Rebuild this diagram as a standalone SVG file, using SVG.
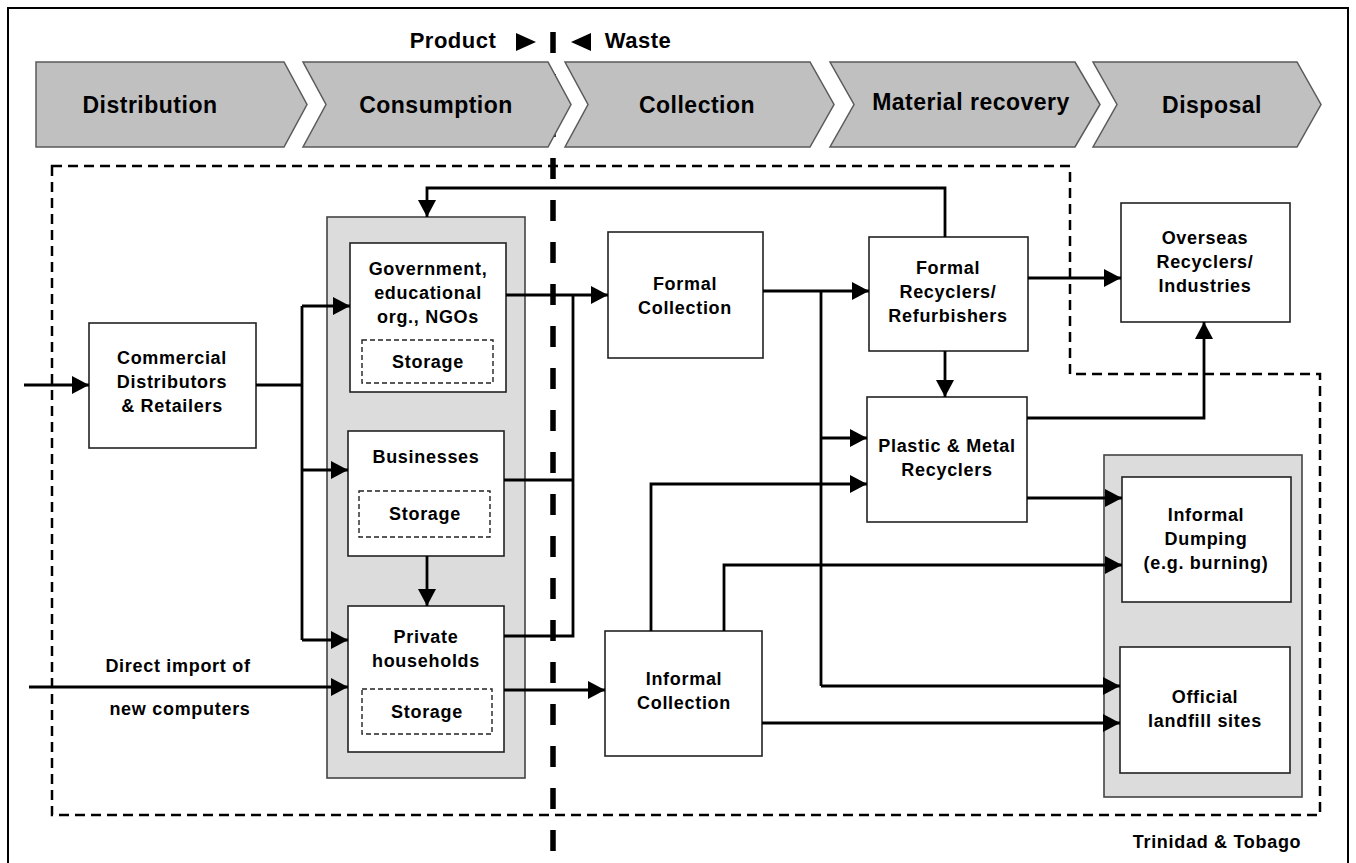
<svg xmlns="http://www.w3.org/2000/svg" width="1356" height="863" viewBox="0 0 1356 863">
<defs>
<marker id="ah" markerUnits="userSpaceOnUse" markerWidth="18" markerHeight="18" refX="17" refY="9" orient="auto">
<path d="M0,0 L17,9 L0,18 Z" fill="#000"/>
</marker>
<style>
.chev{fill:#c0c0c0;stroke:#5a5a5a;stroke-width:1.5}
.ct{font-family:"Liberation Sans",Arial,sans-serif;font-weight:bold;font-size:23px;letter-spacing:0.5px;text-anchor:middle;fill:#000}
.box{fill:#fff;stroke:#222;stroke-width:1.6}
.grp{fill:#dcdcdc;stroke:#444;stroke-width:1.6}
.sto{fill:#fff;stroke:#222;stroke-width:1.4;stroke-dasharray:5 3}
.t{font-family:"Liberation Sans",Arial,sans-serif;font-weight:bold;font-size:18px;letter-spacing:0.7px;text-anchor:middle;fill:#000}
.ln{fill:none;stroke:#000;stroke-width:2.8}
.la{fill:none;stroke:#000;stroke-width:2.8;marker-end:url(#ah)}
</style>
</defs>
<rect width="1356" height="863" fill="#fff"/>
<rect x="8" y="8" width="1340" height="860" fill="none" stroke="#000" stroke-width="2"/>

<!-- product / waste divider -->
<g id="divider">
<line x1="553" y1="32" x2="553" y2="853" stroke="#000" stroke-width="5.5" stroke-dasharray="21 21"/>
<text x="453" y="48" class="ct" style="font-size:22px">Product</text>
<path d="M516,33 L536,42 L516,51 Z" fill="#000"/>
<path d="M591,33 L571,42 L591,51 Z" fill="#000"/>
<text x="638" y="48" class="ct" style="font-size:22px">Waste</text>
</g>

<!-- stage chevrons -->
<g id="stage-distribution">
<path class="chev" d="M36,62 H284 L307,104.5 L284,147 H36 Z"/>
<text class="ct" x="150" y="113">Distribution</text>
</g>
<g id="stage-consumption">
<path class="chev" d="M303,62 H548 L571,104.5 L548,147 H303 L326,104.5 Z"/>
<text class="ct" x="436" y="113">Consumption</text>
</g>
<g id="stage-collection">
<path class="chev" d="M565,62 H810 L834,104.5 L810,147 H565 L588,104.5 Z"/>
<text class="ct" x="697" y="113">Collection</text>
</g>
<g id="stage-material">
<path class="chev" d="M830,62 H1075 L1100,104.5 L1075,147 H830 L854,104.5 Z"/>
<text class="ct" x="971" y="110">Material recovery</text>
</g>
<g id="stage-disposal">
<path class="chev" d="M1093,62 H1297 L1321,104.5 L1297,147 H1093 L1117,104.5 Z"/>
<text class="ct" x="1212" y="113">Disposal</text>
</g>

<!-- country boundary -->
<g id="boundary">
<path d="M52,166 H1070 V374 H1320 V815 H52 Z" fill="none" stroke="#000" stroke-width="2.5" stroke-dasharray="10 6"/>
<text class="t" x="1217" y="848">Trinidad &amp; Tobago</text>
</g>

<!-- group containers -->
<g id="consumption-group">
<rect class="grp" x="327" y="217" width="198" height="561"/>
</g>
<g id="disposal-group">
<rect class="grp" x="1104" y="455" width="198" height="342"/>
</g>

<g id="commercial">
<rect class="box" x="89" y="323" width="167" height="125"/>
<text class="t" x="172" y="364">Commercial</text>
<text class="t" x="172" y="388">Distributors</text>
<text class="t" x="172" y="412">&amp; Retailers</text>
</g>

<g id="government">
<rect class="box" x="350" y="243" width="156" height="149"/>
<text class="t" x="428" y="275">Government,</text>
<text class="t" x="428" y="299">educational</text>
<text class="t" x="428" y="323">org., NGOs</text>
<rect class="sto" x="362" y="340" width="131" height="43"/>
<text class="t" x="428" y="368">Storage</text>
</g>

<g id="businesses">
<rect class="box" x="348" y="431" width="156" height="125"/>
<text class="t" x="426" y="463">Businesses</text>
<rect class="sto" x="359" y="491" width="131" height="46"/>
<text class="t" x="425" y="520">Storage</text>
</g>

<g id="households">
<rect class="box" x="348" y="606" width="156" height="146"/>
<text class="t" x="426" y="643">Private</text>
<text class="t" x="426" y="667">households</text>
<rect class="sto" x="362" y="689" width="130" height="45"/>
<text class="t" x="427" y="718">Storage</text>
</g>

<g id="formal-collection">
<rect class="box" x="608" y="232" width="155" height="126"/>
<text class="t" x="685" y="290">Formal</text>
<text class="t" x="685" y="314">Collection</text>
</g>

<g id="informal-collection">
<rect class="box" x="605" y="631" width="157" height="125"/>
<text class="t" x="684" y="685">Informal</text>
<text class="t" x="684" y="709">Collection</text>
</g>

<g id="formal-recyclers">
<rect class="box" x="869" y="237" width="159" height="114"/>
<text class="t" x="948" y="274">Formal</text>
<text class="t" x="948" y="298">Recyclers/</text>
<text class="t" x="948" y="322">Refurbishers</text>
</g>

<g id="plastic-metal">
<rect class="box" x="867" y="397" width="160" height="125"/>
<text class="t" x="947" y="452">Plastic &amp; Metal</text>
<text class="t" x="947" y="476">Recyclers</text>
</g>

<g id="overseas">
<rect class="box" x="1121" y="203" width="169" height="119"/>
<text class="t" x="1205" y="244">Overseas</text>
<text class="t" x="1205" y="268">Recyclers/</text>
<text class="t" x="1205" y="292">Industries</text>
</g>

<g id="informal-dumping">
<rect class="box" x="1122" y="477" width="169" height="125"/>
<text class="t" x="1206" y="521">Informal</text>
<text class="t" x="1206" y="545">Dumping</text>
<text class="t" x="1206" y="569">(e.g. burning)</text>
</g>

<g id="landfill">
<rect class="box" x="1120" y="647" width="170" height="126"/>
<text class="t" x="1205" y="703">Official</text>
<text class="t" x="1205" y="727">landfill sites</text>
</g>

<g id="connectors">
<path class="la" d="M24,385 H89"/>
<path class="ln" d="M256,385 H302"/>
<path class="ln" d="M302,306 V640"/>
<path class="la" d="M302,306 H350"/>
<path class="la" d="M302,470 H348"/>
<path class="la" d="M302,640 H348"/>
<path class="la" d="M29,687 H348"/>
<text class="t" x="178" y="672">Direct import of</text>
<text class="t" x="180" y="715">new computers</text>
<path class="la" d="M427,556 V606"/>
<path class="la" d="M945,237 V188 H427 V217"/>
<path class="la" d="M506,295 H608"/>
<path class="ln" d="M504,480 H573"/>
<path class="ln" d="M504,636 H573 V295"/>
<path class="la" d="M504,690 H605"/>
<path class="la" d="M763,291 H869"/>
<path class="ln" d="M821,291 V686"/>
<path class="la" d="M821,438 H867"/>
<path class="la" d="M821,686 H1120"/>
<path class="la" d="M1028,278 H1121"/>
<path class="la" d="M945,351 V397"/>
<path class="la" d="M1027,418 H1204 V322"/>
<path class="la" d="M1027,498 H1122"/>
<path class="la" d="M651,631 V484 H867"/>
<path class="la" d="M724,631 V565 H1122"/>
<path class="la" d="M762,723 H1120"/>
</g>
</svg>
